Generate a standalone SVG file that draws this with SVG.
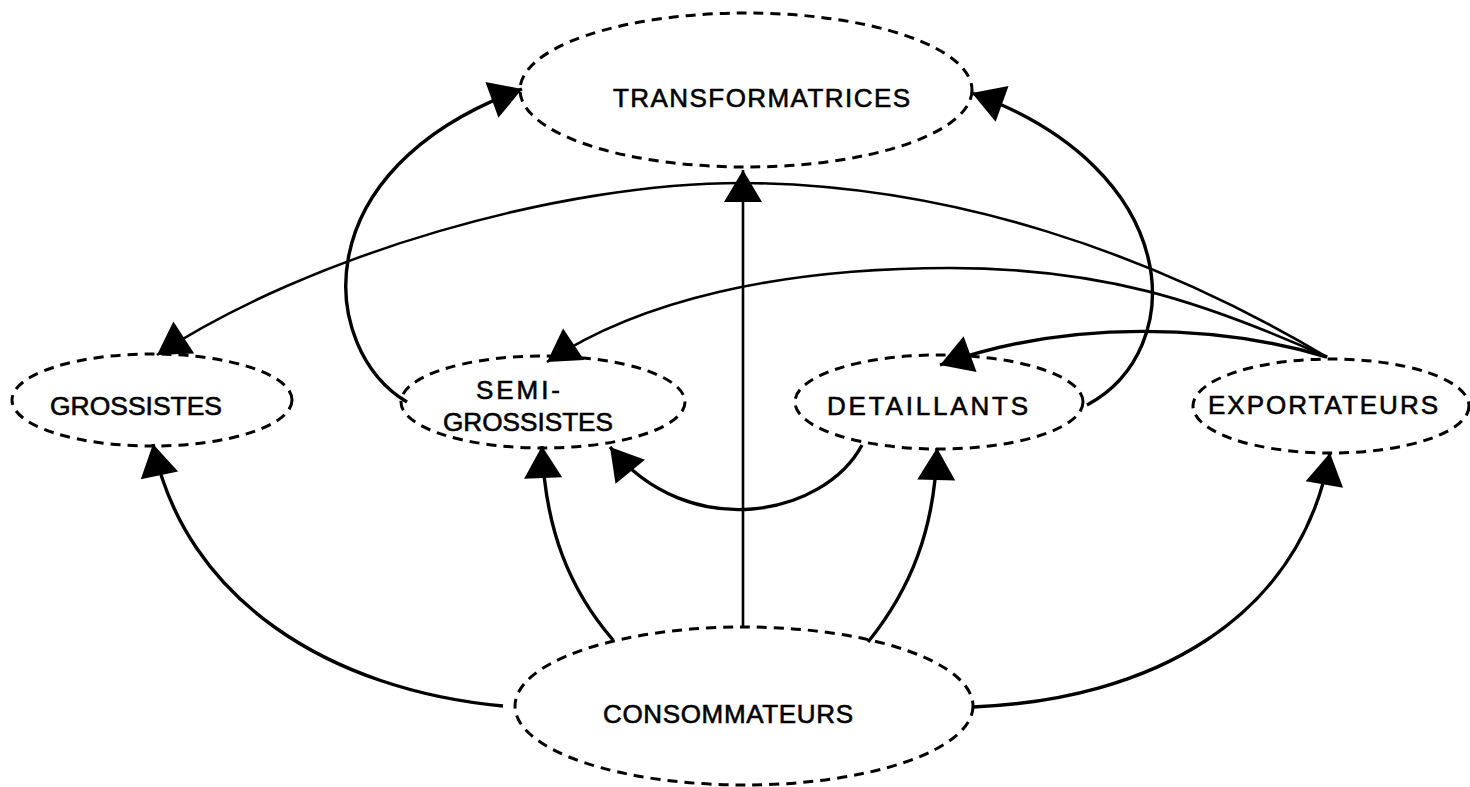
<svg xmlns="http://www.w3.org/2000/svg" width="1470" height="787" viewBox="0 0 1470 787">
  <style>
    .node { fill: none; stroke: #000; stroke-width: 3; stroke-dasharray: 10 7; }
    .label { font-family: "Liberation Sans", Arial, sans-serif; font-size: 26px; fill: #000; stroke: #000; stroke-width: 0.6; }
    .link { fill: none; stroke: #000; stroke-width: 3.4; }
    .thin { stroke-width: 2.6; }
  </style>
  <defs>
    <marker id="arrow" markerUnits="userSpaceOnUse" markerWidth="36" markerHeight="40" refX="32" refY="19" orient="auto" overflow="visible">
      <path d="M0,0 L32,19 L0,38 z" fill="#000"/>
    </marker>
  </defs>
  <rect width="1470" height="787" fill="#fff"/>

  <!-- connectors -->
  <g id="connectors">
    <!-- vertical link consommateurs -> transformatrices -->
    <path class="link thin" d="M743,628 L743,170" marker-end="url(#arrow)"/>
    <!-- semi-grossistes -> transformatrices -->
    <path class="link" d="M407,402 C320,350 300,170 522,89" marker-end="url(#arrow)"/>
    <!-- detaillants -> transformatrices -->
    <path class="link" d="M1087,405 C1190,350 1185,170 972,93" marker-end="url(#arrow)"/>
    <!-- exportateurs -> grossistes -->
    <path class="link thin" d="M1327,357 C1150,252 950,185 746,183 C560,182 310,255 157,355" marker-end="url(#arrow)"/>
    <!-- exportateurs -> semi-grossistes -->
    <path class="link thin" d="M1327,357 C1200,300 1100,268 950,268 C780,268 640,300 547,362" marker-end="url(#arrow)"/>
    <!-- exportateurs -> detaillants -->
    <path class="link" d="M1327,357 C1220,325 1070,318 940,365" marker-end="url(#arrow)"/>
    <!-- detaillants -> semi-grossistes -->
    <path class="link" d="M862,445 C825,515 690,545 610,447" marker-end="url(#arrow)"/>
    <!-- consommateurs -> grossistes -->
    <path class="link" d="M503,706 C330,690 185,600 153,444" marker-end="url(#arrow)"/>
    <!-- consommateurs -> semi-grossistes -->
    <path class="link" d="M613,640 C570,590 545,530 542,446" marker-end="url(#arrow)"/>
    <!-- consommateurs -> detaillants -->
    <path class="link" d="M868,642 C910,590 935,530 937,448" marker-end="url(#arrow)"/>
    <!-- consommateurs -> exportateurs -->
    <path class="link" d="M973,707 C1150,700 1300,620 1330,453" marker-end="url(#arrow)"/>
  </g>

  <g id="transformatrices">
    <ellipse class="node" cx="746" cy="90" rx="226" ry="77"/>
    <text class="label" x="613" y="107" textLength="297" lengthAdjust="spacing">TRANSFORMATRICES</text>
  </g>
  <g id="grossistes">
    <ellipse class="node" cx="152" cy="400" rx="140" ry="46"/>
    <text class="label" x="50" y="415" textLength="172" lengthAdjust="spacingAndGlyphs">GROSSISTES</text>
  </g>
  <g id="semi-grossistes">
    <ellipse class="node" cx="543" cy="402" rx="142" ry="46"/>
    <text class="label" x="476" y="399" textLength="84" lengthAdjust="spacing">SEMI-</text>
    <text class="label" x="443" y="431" textLength="170" lengthAdjust="spacingAndGlyphs">GROSSISTES</text>
  </g>
  <g id="detaillants">
    <ellipse class="node" cx="939" cy="402" rx="144" ry="47"/>
    <text class="label" x="827" y="415" textLength="201" lengthAdjust="spacing">DETAILLANTS</text>
  </g>
  <g id="exportateurs">
    <ellipse class="node" cx="1331" cy="406" rx="138" ry="47"/>
    <text class="label" x="1208" y="414" textLength="230" lengthAdjust="spacing">EXPORTATEURS</text>
  </g>
  <g id="consommateurs">
    <ellipse class="node" cx="744" cy="706" rx="229" ry="79"/>
    <text class="label" x="603" y="723" textLength="250" lengthAdjust="spacing">CONSOMMATEURS</text>
  </g>
</svg>
